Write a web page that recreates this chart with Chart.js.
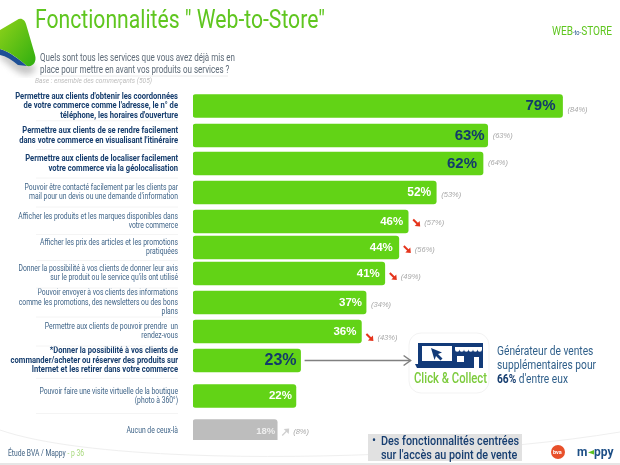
<!DOCTYPE html>
<html><head><meta charset="utf-8">
<script src="https://cdn.jsdelivr.net/npm/chart.js@4"></script>
<style>
html,body{margin:0;padding:0;background:#fff;width:620px;height:465px;overflow:hidden}
#wrap{position:relative;width:620px;height:465px;font-family:Roboto,sans-serif}
canvas{position:absolute;left:0;top:0}
svg{position:absolute;left:0;top:0}
.t{position:absolute;white-space:nowrap;transform-origin:0 0}
</style></head><body>
<div id="wrap">
<svg width="620" height="465" viewBox="0 0 620 465">
 <defs>
  <linearGradient id="g" x1="0" y1="0" x2="1" y2="1"><stop offset="0" stop-color="#8fd21a"/><stop offset="1" stop-color="#2fae10"/></linearGradient>
  <filter id="b"><feGaussianBlur stdDeviation="3"/></filter>
 </defs>
 <path d="M0 58 C14 68 22 80 34 72 L36 66 L0 50Z" fill="#999" opacity=".55" filter="url(#b)"/>
 <path d="M0 49 C10 52 20 60 27 66 L18 65 C12 60 6 56 0 55Z" fill="#1d4f96"/>
 <path d="M0 30 L17 20 C21 17 25 20 26 24 L35 55 C37 62 33 67 27 66 C18 58 10 52 0 49Z" fill="url(#g)"/>
 <path d="M0 430 C40 444 110 452 190 455 C320 460 500 452 620 432" fill="none" stroke="#efefef" stroke-width="1"/>
 <line x1="0" y1="464" x2="620" y2="464" stroke="#e6e6e6" stroke-width="2"/>
 <line x1="40" y1="76" x2="228" y2="76" stroke="#ececec"/>
 <rect x="409" y="333" width="80" height="60" rx="12" fill="#fff" stroke="#f3f3f3"/>
 <rect x="418" y="343" width="65" height="23" fill="#123a78"/>
 <path d="M415 364h42v4h-40z" fill="#123a78"/>
 <path d="M456 362h27v6h-27z" fill="#123a78"/>
 <rect x="422" y="346" width="30" height="15" fill="#fff"/>
 <path d="M431 348l11 4.500-4 1.500 4.500 4.500-2 2-4.500-4.500-1.500 4z" fill="#123a78"/>
 <path d="M455 347h27v2.500a2.200 2.200 0 0 1-4.500 0 2.200 2.200 0 0 1-4.500 0 2.200 2.200 0 0 1-4.500 0 2.200 2.200 0 0 1-4.500 0 2.200 2.200 0 0 1-4.500 0 2.200 2.200 0 0 1-4.500 0z" fill="#fff"/>
 <rect x="457" y="356" width="7" height="6" fill="#fff"/>
 <rect x="474" y="357" width="5" height="11" fill="#fff"/>
 <circle cx="558" cy="452" r="7" fill="#e8502a"/>
 <path d="M594 450l-6 2.500 6 2z" fill="#5cc021"/>
</svg>
<canvas id="c" width="620" height="465"></canvas>

<div class="t" data-w="290" style="left:35px;top:5px;font-size:25px;line-height:30px;color:#5fc61f">Fonctionnalités " Web-to-Store"</div>
<div class="t" data-w="60" style="left:552px;top:23px;font-size:12.500px;line-height:15px;color:#5fc61f">WEB<span style="font-size:7px;color:#1d4f86">-to-</span>STORE</div>
<div class="t" data-w="195" style="left:40px;top:52px;font-size:11px;line-height:11.500px;color:#5e6b78">Quels sont tous les services que vous avez déjà mis en<br>place pour mettre en avant vos produits ou services ?</div>
<div class="t" data-w="117" style="left:35px;top:77px;font-size:6.500px;line-height:8px;color:#bdbdbd;font-style:italic">Base : ensemble des commerçants (505)</div>
<div class="t" data-w="73" style="left:414px;top:369px;font-size:14px;line-height:18px;font-weight:500;color:#7ccb3c">Click &amp; Collect</div>
<div class="t" data-w="99" style="left:497px;top:344px;font-size:12px;line-height:14px;color:#2f5f8a">Générateur de ventes<br>supplémentaires pour<br><b style="color:#173e70">66%</b> d'entre eux</div>
<div class="t" data-w="76" style="left:8px;top:448px;font-size:8.500px;line-height:10px;color:#3d5f80">Étude BVA / Mappy <span style="color:#a6d87a">- p 36</span></div>
<div class="t" style="left:368px;top:434px;width:154px;height:27px;background:#e1e1e1"></div>
<div class="t" style="left:372px;top:434px;font-size:12px;line-height:13px;color:#173e70">•</div>
<div class="t" data-w="138" style="left:381px;top:434px;font-size:13.500px;line-height:13.500px;color:#173e70;font-weight:500">Des fonctionnalités centrées<br>sur l'accès au point de vente</div>
<div class="t" style="left:553px;top:449px;font-size:5.500px;line-height:6px;color:#fff;font-weight:bold">bva</div>
<div class="t" style="left:577px;top:445px;font-size:12px;line-height:14px;color:#1d4f86;font-weight:bold">m</div>
<div class="t" style="left:594px;top:445px;font-size:12px;line-height:14px;color:#1d4f86;font-weight:bold">ppy</div>
</div>
<script>
const categories = [
 ["Permettre aux clients d'obtenir les coordonnées","de votre commerce comme l'adresse, le n° de","téléphone, les horaires d'ouverture"],
 ["Permettre aux clients de se rendre facilement","dans votre commerce en visualisant l'itinéraire"],
 ["Permettre aux clients de localiser facilement","votre commerce via la géolocalisation"],
 ["Pouvoir être contacté facilement par les clients par","mail pour un devis ou une demande d'information"],
 ["Afficher les produits et les marques disponibles dans","votre commerce"],
 ["Afficher les prix des articles et les promotions","pratiquées"],
 ["Donner la possibilité à vos clients de donner leur avis","sur le produit ou le service qu'ils ont utilisé"],
 ["Pouvoir envoyer à vos clients des informations","comme les promotions, des newsletters ou des bons","plans"],
 ["Permettre aux clients de pouvoir prendre  un","rendez-vous"],
 ["*Donner la possibilité à vos clients de","commander/acheter ou réserver des produits sur","Internet et les retirer dans votre commerce"],
 ["Pouvoir faire une visite virtuelle de la boutique","(photo à 360°)"],
 ["Aucun de ceux-là"]
];
const current = [79,63,62,52,46,44,41,37,36,23,22,18];
const previous = [84,63,64,53,57,56,49,34,43,null,null,8];
const trend = [0,0,0,0,-1,-1,-1,0,-1,0,0,1];
const barColors = ["#62d316","#62d316","#62d316","#62d316","#62d316","#62d316","#62d316","#62d316","#62d316","#62d316","#62d316","#bdbdbd"];
const boldRows = [0,1,2,9];
const darkValueRows = [0,1,2,9];
const rowNudge = [-0.500,0,-1,-1,-1,-4,-7,-7,-7,-7,-0.500,5.500];
const valueSize = [15,15,15,12,11.500,11.500,11.500,11.500,11.500,16,11.500,9.500];
const valueGap = [7,3,6,5,5,6,5,4,5,4,4,2];
const prevDy = [4,0.500,-1,2.500,1.500,2,3,2.500,6,0,0,1];
const labelScaleX = 0.8;
const labelRight = 178;

class RowScale extends Chart.CategoryScale {
  getPixelForValue(v, i){
    const p = super.getPixelForValue(v, i);
    const k = Math.round(typeof v === 'number' ? v : (i||0));
    return p + (rowNudge[k]||0);
  }
  _computeLabelArea(){ return undefined; }
  drawLabels(area){
    const ctx=this.ctx;
    ctx.save();
    ctx.translate(labelRight,0);ctx.scale(labelScaleX,1);ctx.translate(-labelRight,0);
    super.drawLabels(area);
    ctx.restore();
  }
}
RowScale.id = 'rowScale';
RowScale.defaults = Chart.CategoryScale.defaults;
Chart.register(RowScale);

const NAVY = "#123a6b";
const decor = {
  id:'decor',
  afterDatasetsDraw(chart){
    const {ctx} = chart;
    const meta = chart.getDatasetMeta(0);
    ctx.save();
    ctx.textBaseline='middle';
    meta.data.forEach((bar,i)=>{
      ctx.font = 'bold '+valueSize[i]+'px "Liberation Sans"';
      ctx.textAlign='right';
      ctx.fillStyle = darkValueRows.includes(i) ? NAVY : (i===11?'#eeeeee':'#fff');
      ctx.fillText(current[i]+'%', bar.x-valueGap[i], bar.y);
      let x = bar.x+5;
      const ly = bar.y+prevDy[i];
      if(trend[i]){
        const y = ly;
        const col = trend[i]<0 ? '#e5341c' : '#cfcfcf';
        ctx.strokeStyle=col; ctx.fillStyle=col; ctx.lineWidth=trend[i]<0?2:1.200;
        const dy = trend[i]<0 ? 1 : -1;
        const x0=x, y0=y-dy*3.500, x1=x+5, y1=y+dy*1.500;
        ctx.beginPath();ctx.moveTo(x0,y0);ctx.lineTo(x1,y1);ctx.stroke();
        ctx.beginPath();ctx.moveTo(x1+2,y1+dy*2);ctx.lineTo(x1-3.500,y1+dy*1.500);ctx.lineTo(x1+1.500,y1-dy*3.500);ctx.closePath();ctx.fill();
        x += 11;
      }
      if(previous[i]!==null){
        ctx.font='italic 7.500px "Liberation Sans"';
        ctx.textAlign='left';
        ctx.fillStyle='#a8a8a8';
        ctx.fillText('('+previous[i]+'%)', x, ly);
      }
    });
    const b = meta.data[9];
    ctx.strokeStyle='#808080'; ctx.lineWidth=1.500;
    ctx.beginPath();ctx.moveTo(b.x+4,b.y);ctx.lineTo(b.x+110,b.y);ctx.stroke();
    ctx.beginPath();ctx.moveTo(b.x+103,b.y-5);ctx.lineTo(b.x+110,b.y);ctx.lineTo(b.x+103,b.y+5);ctx.stroke();
    ctx.strokeStyle='#f4f4f4'; ctx.lineWidth=1;
    for(let i=0;i<meta.data.length-1;i++){
      const m=(meta.data[i].y+meta.data[i+1].y)/2;
      ctx.beginPath();ctx.moveTo(36,m);ctx.lineTo(178,m);ctx.stroke();
    }
    ctx.restore();
  }
};

new Chart(document.getElementById('c'),{
  type:'bar',
  data:{labels:categories,datasets:[{data:current,backgroundColor:barColors,borderRadius:3,borderSkipped:false,barThickness:23}]},
  plugins:[decor],
  options:{
    indexAxis:'y',responsive:false,animation:false,devicePixelRatio:1,
    layout:{padding:{left:0,right:6,top:92,bottom:25}},
    plugins:{legend:{display:false},tooltip:{enabled:false},title:{display:false}},
    scales:{
      x:{type:'linear',min:0,max:90,display:false},
      y:{type:'rowScale',offset:true,
         afterFit(s){s.width=193;s.paddingTop=0;s.paddingBottom=0;},
         grid:{display:false,drawTicks:false},border:{display:false},
         ticks:{autoSkip:false,padding:15,crossAlign:'near',
           color:c=>boldRows.includes(c.index)?'#173e6e':'#3f6488',
           font:c=>({family:'Roboto',size:boldRows.includes(c.index)?9.500:8.500,weight:boldRows.includes(c.index)?'bold':'normal',lineHeight:boldRows.includes(c.index)?1.0:1.08})
         }}
    }
  }
});
document.querySelectorAll('.t[data-w]').forEach(el=>{
  const w=el.getBoundingClientRect().width;
  el.style.transform='scaleX('+(parseFloat(el.dataset.w)/w)+')';
});
</script>
</body></html>
